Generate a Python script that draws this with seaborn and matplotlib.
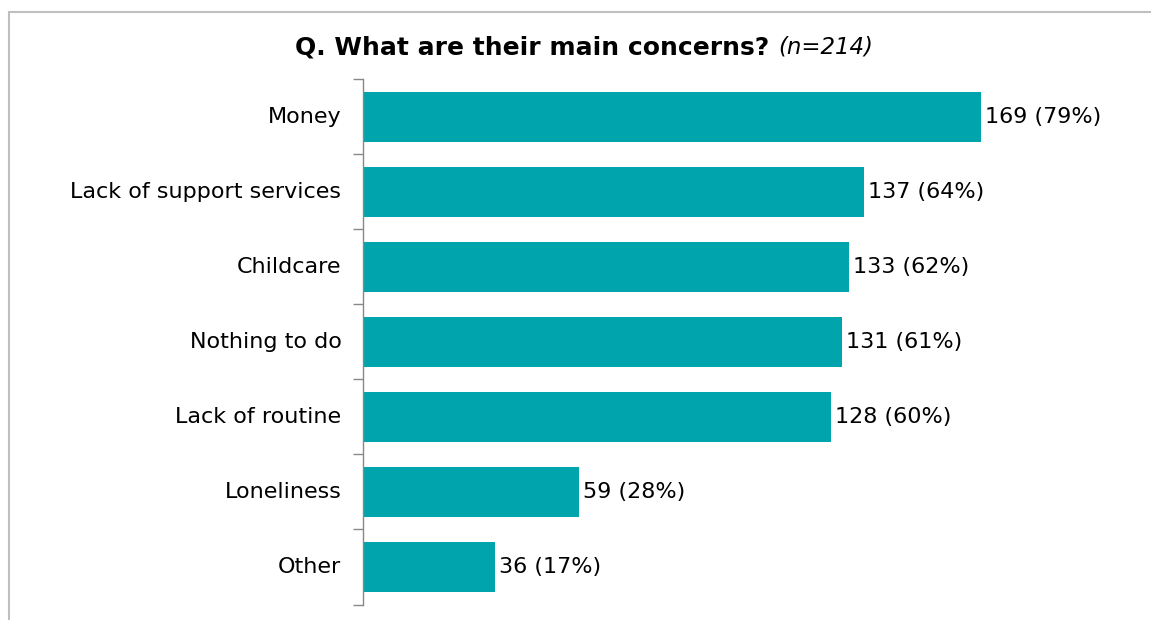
import matplotlib
matplotlib.use("Agg")
import matplotlib.pyplot as plt
from matplotlib.patches import Rectangle
import seaborn as sns
import pandas as pd

categories = ["Money", "Lack of support services", "Childcare", "Nothing to do",
              "Lack of routine", "Loneliness", "Other"]
counts = [169, 137, 133, 131, 128, 59, 36]
percents = [79, 64, 62, 61, 60, 28, 17]
sample_size = 214

BAR_COLOR = "#00A4AD"
FONT = "DejaVu Sans"
LABEL_SIZE = 16

sns.set_theme(style="white")
plt.rcParams["font.family"] = [FONT]

df = pd.DataFrame({"concern": categories, "count": counts})

fig = plt.figure(figsize=(11.51, 6.2), dpi=100)
ax = fig.add_axes([0.3154, 0.025, 0.635, 0.8468])

sns.barplot(data=df, x="count", y="concern", orient="h", color=BAR_COLOR,
            saturation=1, width=0.667, linewidth=0, ax=ax)

ax.set_xlim(0, 200)
ax.set_ylim(len(categories) - 0.5, -0.5)
ax.set_xlabel("")
ax.set_ylabel("")
ax.set_xticks([])

# category ticks sit on the boundaries between bars
ax.set_yticks([i - 0.5 for i in range(len(categories) + 1)])
ax.set_yticklabels([])
ax.tick_params(axis="y", which="major", length=7, width=1, color="#888888",
               direction="out", left=True)
for i, name in enumerate(categories):
    ax.annotate(name, xy=(0, i), xycoords=("axes fraction", "data"),
                xytext=(-15.5, 0), textcoords="offset points",
                ha="right", va="center", fontsize=LABEL_SIZE, color="#000000")

for side in ["top", "right", "bottom"]:
    ax.spines[side].set_visible(False)
ax.spines["left"].set_color("#888888")
ax.spines["left"].set_linewidth(1)

for bar, c, p in zip(ax.patches, counts, percents):
    y = bar.get_y() + bar.get_height() / 2
    ax.annotate(f"{c} ({p}%)", xy=(bar.get_width(), y), xytext=(3, 0),
                textcoords="offset points", ha="left", va="center",
                fontsize=LABEL_SIZE, color="#000000")

# frame around the chart
fig.patches.append(Rectangle((9 / 1151, -0.1), 1.2, 0.1 + (620 - 12) / 620,
                             transform=fig.transFigure, fill=False,
                             edgecolor="#BFBFBF", linewidth=1.5))

# title: bold question followed by the sample size in italics
fig.canvas.draw()
renderer = fig.canvas.get_renderer()
parts = [("Q. What are their main concerns? ", "bold", "normal", 18),
         (f"(n={sample_size})", "normal", "italic", 16.5)]
ty = 1 - 45 / 620
texts = []
for s, w, st, fs in parts:
    t = fig.text(0, ty, s, fontsize=fs, fontweight=w, fontstyle=st,
                 ha="left", va="center_baseline", color="#000000")
    texts.append(t)
widths = [t.get_window_extent(renderer).width for t in texts]
total = sum(widths)
start = 584 - total / 2
for t, w in zip(texts, widths):
    t.set_x(start / 1151)
    start += w

fig.savefig("out.png", dpi=100)
